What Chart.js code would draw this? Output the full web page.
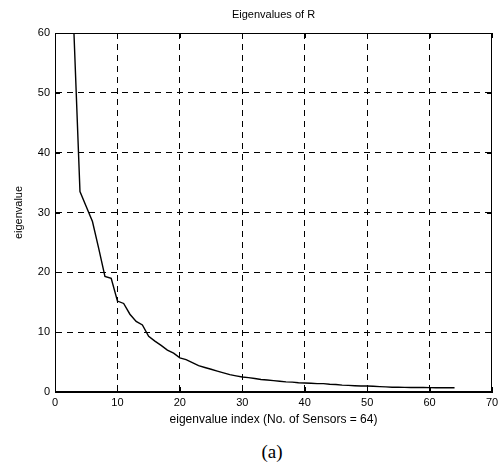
<!DOCTYPE html>
<html>
<head>
<meta charset="utf-8">
<script src="https://cdn.jsdelivr.net/npm/chart.js@4/dist/chart.umd.min.js"></script>
<style>
html,body{margin:0;padding:0;background:#fff;}
#wrap{position:relative;width:504px;height:476px;}
#box{position:absolute;left:0;top:0;width:504px;height:430px;}
#cap{position:absolute;left:0;width:544px;top:441px;text-align:center;font:19px "Liberation Serif",serif;color:#000;}
</style>
</head>
<body>
<div id="wrap">
<div id="box"><canvas id="c"></canvas></div>
<div id="cap">(a)</div>
</div>
<script>
// eigenvalues, index 1..64 (first two run off the top)
const idx=[];
for(let i=1;i<=64;i++) idx.push(i);
const eig=[140,85,61,33.5,31,28.5,24,19.3,19,15.2,
14.8,13,11.8,11.2,9.3,8.5,7.8,7.0,6.5,5.7,
5.4,4.9,4.4,4.1,3.8,3.5,3.2,2.9,2.7,2.5,
2.4,2.25,2.1,2.0,1.9,1.8,1.7,1.65,1.55,1.5,
1.45,1.4,1.4,1.3,1.25,1.15,1.1,1.05,1.0,1.0,
0.95,0.9,0.85,0.8,0.8,0.78,0.76,0.75,0.74,0.73,
0.72,0.71,0.7,0.7];
const xTicks=[0,10,20,30,40,50,60,70];
const yTicks=[0,10,20,30,40,50,60];

const font='"Liberation Sans", Arial, sans-serif';

// box round the axes + little inward ticks like matlab
const frame={
id:"frame",
afterDraw(ch){
const a=ch.chartArea,c=ch.ctx,x=ch.scales.x,y=ch.scales.y;
c.save();
c.strokeStyle="#000";c.lineWidth=1;
c.strokeRect(a.left+0.5,a.top+0.5,a.right-a.left-1,a.bottom-a.top-1);
c.beginPath();
xTicks.forEach(v=>{
const px=Math.round(x.getPixelForValue(v))+0.5;
c.moveTo(px,a.bottom);c.lineTo(px,a.bottom-5);
c.moveTo(px,a.top);c.lineTo(px,a.top+5);
});
yTicks.forEach(v=>{
const py=Math.round(y.getPixelForValue(v))+0.5;
c.moveTo(a.left,py);c.lineTo(a.left+5,py);
c.moveTo(a.right,py);c.lineTo(a.right-5,py);
});
c.stroke();
c.restore();
}
};

const gridCol=ctx=>{
const v=ctx.tick&&ctx.tick.value;
return (v===0||v===60&&ctx.scale.axis==="y"||v===70)?"rgba(0,0,0,0)":"#000";
};

new Chart(document.getElementById("c"),{
type:"line",
data:{
labels:idx,
datasets:[{
data:idx.map((v,i)=>({x:v,y:eig[i]})),
borderColor:"#000",
borderWidth:1.4,
pointRadius:0,
tension:0,
fill:false,
clip:0
}]
},
options:{
responsive:true,
maintainAspectRatio:false,
animation:false,
events:[],
layout:{padding:{left:0,right:12,top:0,bottom:0}},
plugins:{
legend:{display:false},
tooltip:{enabled:false}
},
scales:{
x:{
type:"linear",
min:0,max:70,
afterBuildTicks(s){s.ticks=xTicks.map(v=>({value:v}));},
afterFit(s){s.height=38;},
grid:{color:gridCol,lineWidth:1,drawTicks:false},
border:{display:true,color:"#000",dash:[6,5]},
ticks:{color:"#000",font:{family:font,size:11},padding:4,maxRotation:0},
title:{display:true,text:"eigenvalue index (No. of Sensors = 64)",color:"#000",
font:{family:font,size:12},padding:{top:0,bottom:3}}
},
// top axis only carries the plot title so it is centred over the axes
top:{
type:"linear",
position:"top",
min:0,max:70,
afterFit(s){s.height=33;},
grid:{display:false},
border:{display:false},
ticks:{display:false},
title:{display:true,text:"Eigenvalues of R",color:"#000",
font:{family:font,size:11},padding:{top:8,bottom:0}}
},
y:{
type:"linear",
min:0,max:60,
afterBuildTicks(s){s.ticks=yTicks.map(v=>({value:v}));},
afterFit(s){s.width=55;},
grid:{color:gridCol,lineWidth:1,drawTicks:false},
border:{display:true,color:"#000",dash:[6,5]},
ticks:{color:"#000",font:{family:font,size:11},padding:5},
title:{display:true,text:"eigenvalue",color:"#000",
font:{family:font,size:11},padding:{top:12,bottom:0}}
}
}
},
plugins:[frame]
});
</script>
</body>
</html>
